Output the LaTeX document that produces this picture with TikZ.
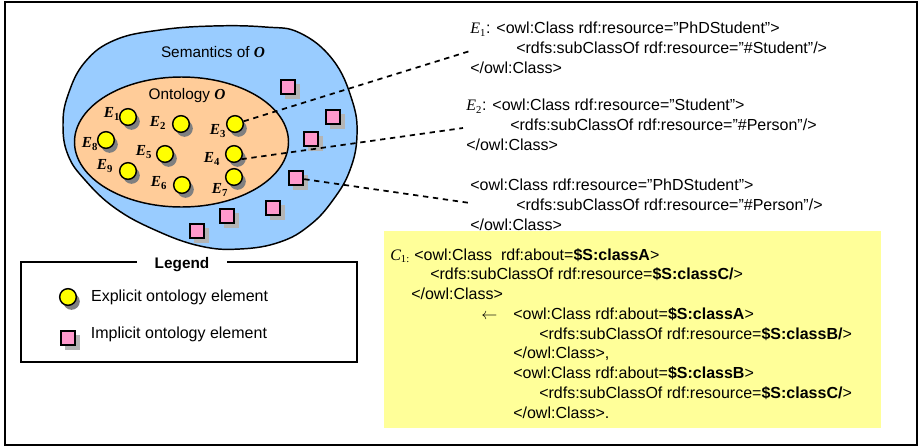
\documentclass[tikz,border=0pt]{standalone}
\usepackage{fontspec}
\setmainfont{Liberation Sans}
\newfontfamily\timesfont{Liberation Serif}
\usetikzlibrary{positioning}
\definecolor{skyblue}{HTML}{99CCFF}
\definecolor{peach}{HTML}{FFCC99}
\definecolor{lemon}{HTML}{FFFF00}
\definecolor{rose}{HTML}{FF99CC}
\definecolor{paleyellow}{HTML}{FFFF99}
\definecolor{shadegray}{HTML}{808080}
\definecolor{gridgray}{HTML}{B4B4B4}
\newcommand{\eref}[1]{{\timesfont\itshape E}\textsubscript{\timesfont #1}:}
\newcommand{\oname}{{\timesfont\bfseries\itshape O}}

\begin{document}
\begin{tikzpicture}[x=0.75pt,y=-0.75pt,explicit/.style={circle,draw,line width=1.1pt,fill=lemon,minimum size=12.5pt,inner sep=0pt},implicit/.style={rectangle,draw,line width=1.3pt,fill=rose,minimum size=11pt,inner sep=0pt},eshade/.style={fill=shadegray},ishade/.style={fill=gridgray},elabel/.style={font=\timesfont\bfseries\itshape\fontsize{11.5}{12}\selectfont,inner sep=0pt},link/.style={line width=1.3pt,dash pattern=on 4pt off 3.5pt},owl/.style={font=\fontsize{12}{14.8}\selectfont,align=left,inner sep=0pt,anchor=north west},legendtext/.style={font=\fontsize{12}{14}\selectfont}]
\useasboundingbox (0,0) rectangle (919,446);
\draw[line width=1.2pt] (5,2) rectangle (917,445);
% semantics and ontology
\draw[line width=1.1pt,fill=skyblue] plot[smooth cycle,tension=0.7] coordinates {(63,125) (68,95) (85,62) (115,40) (160,30) (213,26) (265,27) (300,33) (333,60) (352,100) (357,135) (350,170) (333,200) (310,225) (280,242) (240,249) (200,246) (155,230) (115,208) (85,180) (68,155)};
\draw[line width=1.1pt,fill=peach] (181.5,142) ellipse [x radius=107,y radius=65];
\node[font=\fontsize{11.5}{13}\selectfont] (sem) at (213,52) {Semantics of \oname};
\node[font=\fontsize{11.5}{13}\selectfont] (onto) at (187,96) {Ontology \oname};
% implicit elements
\foreach \n/\px/\py in {s1/288/87,s2/333/117,s3/311/139,s4/296/178,s5/273/208,s6/227/216,s7/197/231,lgimp/68/338}{
  \fill[ishade] (\px-3.5,\py-3.5) rectangle (\px+11.5,\py+11.5);
  \node[implicit] (\n) at (\px,\py) {};
}
% explicit elements
\foreach \n/\px/\py in {e1/128/117,e2/181/124,e3/235/124,e4/234/154,e5/165/154,e6/182/185,e7/234/177,e8/106/140,e9/128/171,lgexp/68/297}{
  \fill[eshade] (\px+3.5,\py+4.5) circle[radius=8.3];
  \node[explicit] (\n) at (\px,\py) {};
}
\node[elabel] (l1) at (112,114) {E\textsubscript{\upshape 1}};
\node[elabel] (l2) at (158,123) {E\textsubscript{\upshape 2}};
\node[elabel] (l3) at (218,131) {E\textsubscript{\upshape 3}};
\node[elabel] (l4) at (212,159) {E\textsubscript{\upshape 4}};
\node[elabel] (l5) at (144,152) {E\textsubscript{\upshape 5}};
\node[elabel] (l6) at (159,183) {E\textsubscript{\upshape 6}};
\node[elabel] (l7) at (220,190) {E\textsubscript{\upshape 7}};
\node[elabel] (l8) at (90,144) {E\textsubscript{\upshape 8}};
\node[elabel] (l9) at (105,166) {E\textsubscript{\upshape 9}};
% owl fragments
\node[owl] (def1) at (470,22) {\eref{1} <owl:Class rdf:resource="PhDStudent">\\\hspace*{34.5pt}<rdfs:subClassOf rdf:resource="\#Student"/>\\</owl:Class>};
\node[owl] (def2) at (466,99) {\eref{2} <owl:Class rdf:resource="Student">\\\hspace*{33pt}<rdfs:subClassOf rdf:resource="\#Person"/>\\</owl:Class>};
\node[owl] (def3) at (470,179) {<owl:Class rdf:resource="PhDStudent">\\\hspace*{34.5pt}<rdfs:subClassOf rdf:resource="\#Person"/>\\</owl:Class>};
\coordinate (t1) at (470,51);
\coordinate (t2) at (463,128);
\coordinate (t3) at (470,203);
\draw[link] (e3) -- (t1);
\draw[link] (e4.-35) -- (t2);
\draw[link] (s4) -- (t3);
% rule box
\node[fill=paleyellow,inner sep=0pt,minimum width=372.75pt,minimum height=147.75pt,anchor=north west] (rule) at (384,231) {};
\node[owl] (c1) at (390,248) {{\timesfont\itshape C}\textsubscript{\timesfont 1:} <owl:Class\ \ rdf:about=\textbf{\$S:classA}>\\
\hspace*{30pt}<rdfs:subClassOf rdf:resource=\textbf{\$S:classC/}>\\
\hspace*{15.75pt}</owl:Class>\\
\makebox[92.25pt][l]{\hspace*{68.25pt}$\leftarrow$}<owl:Class rdf:about=\textbf{\$S:classA}>\\
\hspace*{111.75pt}<rdfs:subClassOf rdf:resource=\textbf{\$S:classB/}>\\
\hspace*{92.25pt}</owl:Class>,\\
\hspace*{92.25pt}<owl:Class rdf:about=\textbf{\$S:classB}>\\
\hspace*{111.75pt}<rdfs:subClassOf rdf:resource=\textbf{\$S:classC/}>\\
\hspace*{92.25pt}</owl:Class>.};
% legend
\draw[line width=1.1pt] (21,262) rectangle (357,362);
\node[fill=white,font=\bfseries\fontsize{11.5}{13}\selectfont,inner xsep=13pt,inner ysep=2pt] (legend) at (182,265) {Legend};
\node[legendtext,right=7pt of lgexp] (lgexptext) {Explicit ontology element};
\node[legendtext,right=7.5pt of lgimp,yshift=3pt] (lgimptext) {Implicit ontology element};
\end{tikzpicture}
\end{document}
